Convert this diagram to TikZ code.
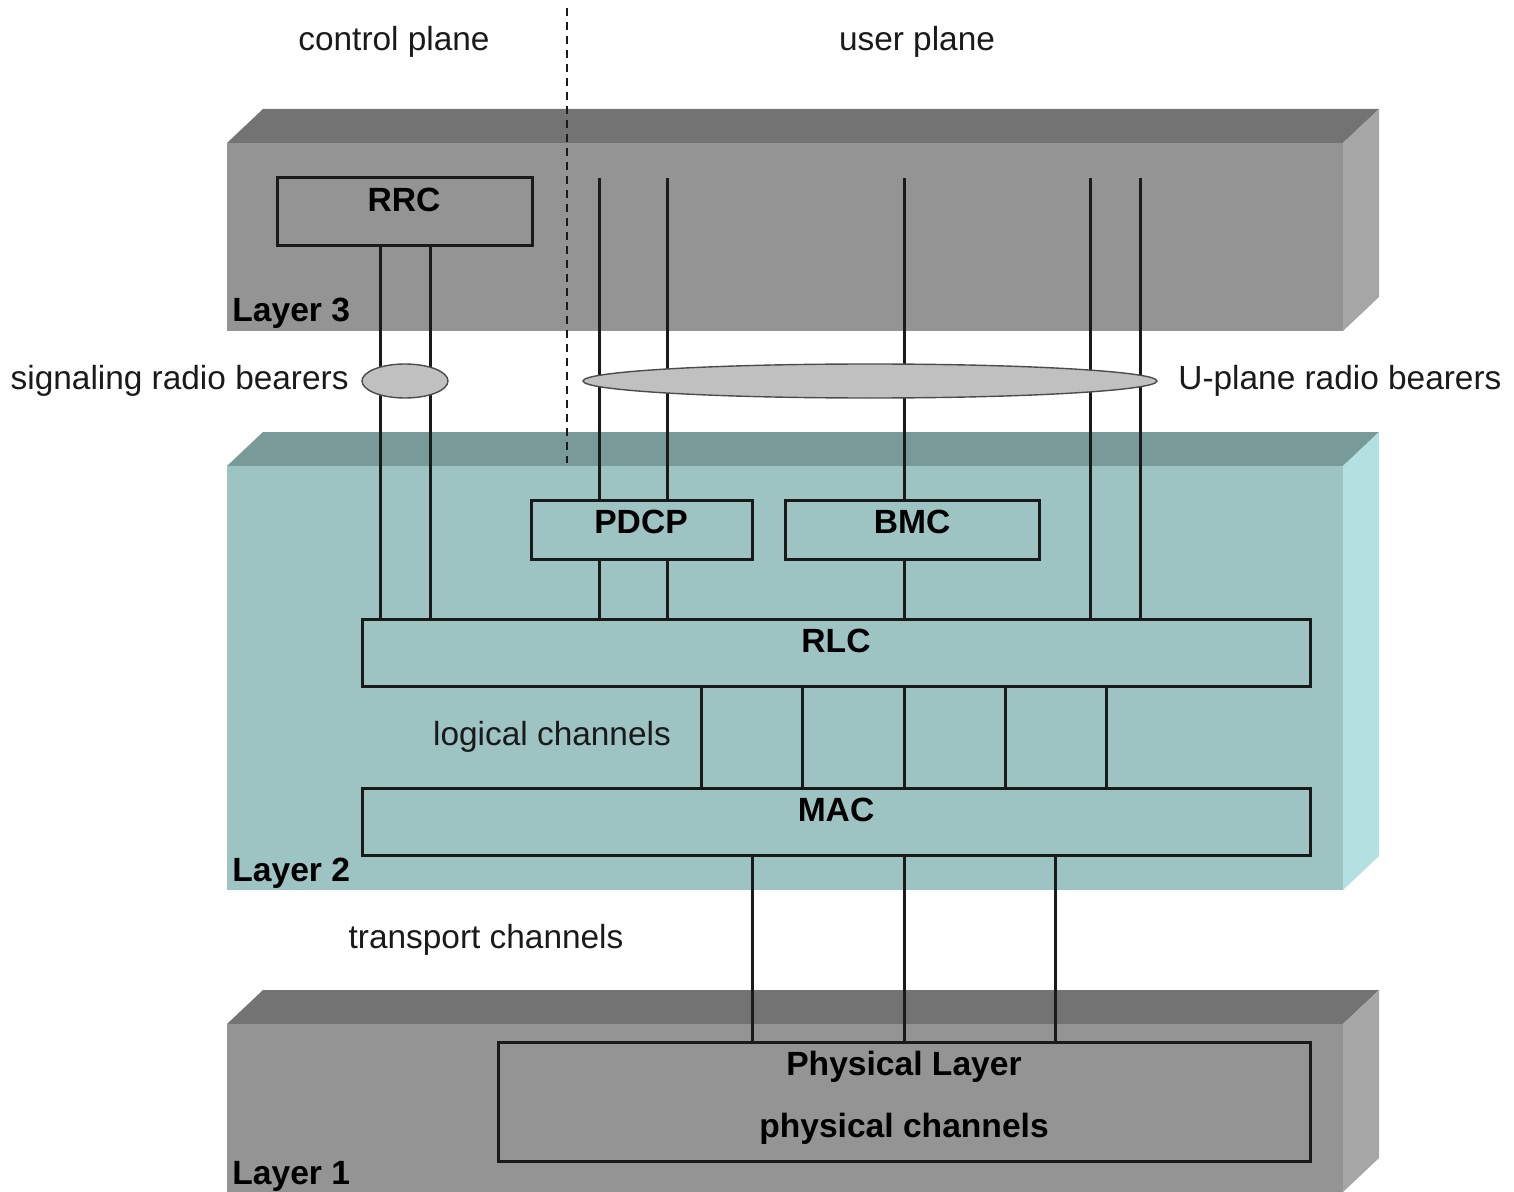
\documentclass[tikz,border=0pt]{standalone}
\usepackage{fontspec}
\setmainfont{Liberation Sans}
\usetikzlibrary{fit,shapes.geometric}
\definecolor{lthreefront}{HTML}{949494}
\definecolor{lthreetop}{HTML}{737373}
\definecolor{lthreeside}{HTML}{A6A6A6}
\definecolor{ltwofront}{HTML}{9DC3C3}
\definecolor{ltwotop}{HTML}{789A98}
\definecolor{ltwoside}{HTML}{B3E0E0}
\definecolor{bearer}{HTML}{C0C0C0}
\definecolor{inkc}{HTML}{1A1A1A}
\begin{document}
\begin{tikzpicture}[x=0.5pt,y=-0.5pt,
 box/.style={draw=inkc, line width=1.5pt, inner sep=0pt},
 conn/.style={draw=inkc, line width=1.5pt},
 lbl/.style={font=\fontsize{16.7}{18}\selectfont, anchor=base, inner sep=0pt, text=inkc},
 blbl/.style={font=\fontsize{16.8}{18}\selectfont\bfseries, anchor=base, inner sep=0pt, text=black},
 bearerell/.style={ellipse, draw=black!70, fill=bearer, line width=0.7pt, inner sep=0pt, minimum height=17pt}]
\useasboundingbox (0,0) rectangle (1514,1192);
% Layer 3 slab
\fill[lthreetop] (227,143) -- (263,109) -- (1379,109) -- (1343,143) -- cycle;
\fill[lthreeside] (1343,143) -- (1379,109) -- (1379,297) -- (1343,331) -- cycle;
\fill[lthreefront] (227,143) rectangle (1343,331);
% Layer 2 slab
\fill[ltwotop] (227,466) -- (263,432) -- (1379,432) -- (1343,466) -- cycle;
\fill[ltwoside] (1343,466) -- (1379,432) -- (1379,856) -- (1343,890) -- cycle;
\fill[ltwofront] (227,466) rectangle (1343,890);
% Layer 1 slab
\fill[lthreetop] (227,1024) -- (263,990) -- (1379,990) -- (1343,1024) -- cycle;
\fill[lthreeside] (1343,1024) -- (1379,990) -- (1379,1158) -- (1343,1192) -- cycle;
\fill[lthreefront] (227,1024) rectangle (1343,1192);
% plane divider
\draw[inkc, line width=0.6pt, dash pattern=on 4pt off 3pt] (567,8) -- (567,463);
% boxes
\node[box, fit={(277,178)(532,246)}] (rrc) {};
\node[box, fit={(531,500)(752,559)}] (pdcp) {};
\node[box, fit={(785,500)(1039,559)}] (bmc) {};
\node[box, fit={(362,619)(1310,686)}] (rlc) {};
\node[box, fit={(362,788)(1310,855)}] (mac) {};
\node[box, fit={(498,1042)(1310,1161)}] (phy) {};
% free ends of user plane bearers
\coordinate (upa) at (599,178);
\coordinate (upb) at (667,178);
\coordinate (upc) at (904,178);
\coordinate (upd) at (1090,178);
\coordinate (upe) at (1140,178);
% signaling radio bearers
\draw[conn] (380,0 |- rrc.south) -- (380,0 |- rlc.north);
\draw[conn] (430,0 |- rrc.south) -- (430,0 |- rlc.north);
% user plane radio bearers
\draw[conn] (upa) -- (upa |- pdcp.north);
\draw[conn] (upb) -- (upb |- pdcp.north);
\draw[conn] (upc) -- (upc |- bmc.north);
\draw[conn] (upd) -- (upd |- rlc.north);
\draw[conn] (upe) -- (upe |- rlc.north);
\draw[conn] (upa |- pdcp.south) -- (upa |- rlc.north);
\draw[conn] (upb |- pdcp.south) -- (upb |- rlc.north);
\draw[conn] (upc |- bmc.south) -- (upc |- rlc.north);
% logical channels
\foreach \xx in {701,802,904,1005,1106}
  \draw[conn] (\xx,0 |- rlc.south) -- (\xx,0 |- mac.north);
% transport channels
\foreach \xx in {752,904,1055}
  \draw[conn] (\xx,0 |- mac.south) -- (\xx,0 |- phy.north);
% bearer ellipses
\node[bearerell, minimum width=43pt] (srb) at (405,381) {};
\node[bearerell, minimum width=287pt] (urb) at (870,381) {};
% box texts
\node[blbl] (rrct) at (404,212) {RRC};
\node[blbl] (pdcpt) at (641,533) {PDCP};
\node[blbl] (bmct) at (912,533) {BMC};
\node[blbl] (rlct) at (836,652) {RLC};
\node[blbl] (mact) at (836,821) {MAC};
\node[blbl] (phyt) at (904,1075) {Physical Layer};
\node[blbl] (phct) at (904,1137) {physical channels};
% layer labels
\node[blbl, anchor=base west] (lthree) at (232,322) {Layer 3};
\node[blbl, anchor=base west] (ltwo) at (232,881) {Layer 2};
\node[blbl, anchor=base west] (lone) at (232,1184) {Layer 1};
% other labels
\node[lbl] (cp) at (394,51) {control plane};
\node[lbl] (up) at (917,51) {user plane};
\node[lbl, anchor=base east] (srbt) at (349,389) {signaling radio bearers};
\node[lbl, anchor=base west] (urbt) at (1178,389) {U-plane radio bearers};
\node[lbl] (lct) at (552,745) {logical channels};
\node[lbl] (tct) at (486,948) {transport channels};
\end{tikzpicture}
\end{document}
